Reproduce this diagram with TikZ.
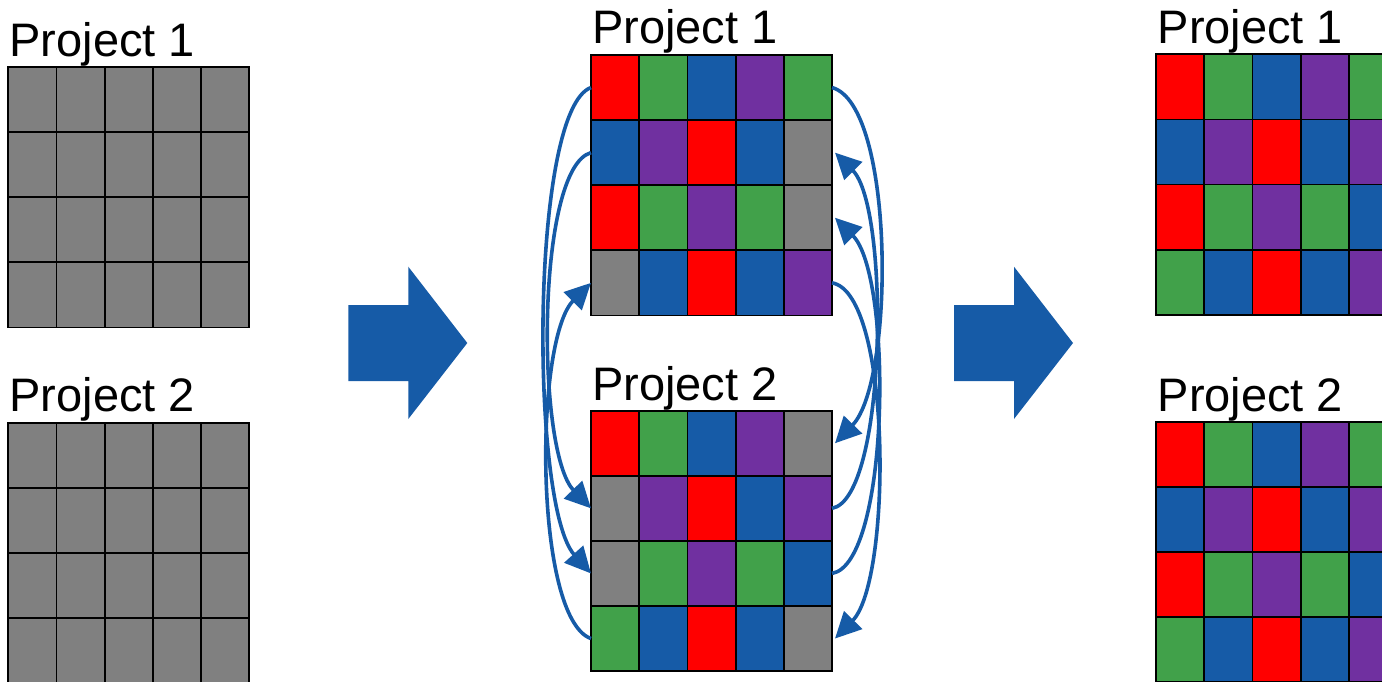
\documentclass[tikz,border=0pt]{standalone}
\usepackage{fontspec}
\setmainfont{Liberation Sans}
\usetikzlibrary{arrows.meta}

\definecolor{rd}{HTML}{FF0000}
\definecolor{gn}{HTML}{41A14A}
\definecolor{bl}{HTML}{165BA7}
\definecolor{pu}{HTML}{7030A0}
\definecolor{gy}{HTML}{808080}

% a 5x4 project grid: name, left, top, rows of colours
\newcommand{\projgrid}[4]{%
  \foreach \row [count=\rowno] in {#4} {
    \foreach \col [count=\colno] in \row {
      \node[cell, fill=\col] (#1-\rowno-\colno)
        at ({#2+(\colno-0.5)*48.2}, {#3+(\rowno-0.5)*65.1}) {};
    }
  }
}

\begin{document}
\begin{tikzpicture}[x=1pt, y=-1pt,
    cell/.style={draw=black, line width=1.8pt, minimum width=48.2pt,
      minimum height=65.1pt, inner sep=0pt, outer sep=0pt},
    projname/.style={anchor=base west, inner sep=0pt,
      font=\fontsize{47}{50}\selectfont},
    flow/.style={draw=bl, line width=3.6pt,
      -{Triangle[length=26pt, width=25pt]}},
    bigarrow/.style={fill=bl}]

    \useasboundingbox (0,0) rectangle (1382,681);
    \clip (0,0) rectangle (1382,681);

    % draw grey grids before
    \projgrid{a1}{8.3}{67}{{gy,gy,gy,gy,gy},{gy,gy,gy,gy,gy},{gy,gy,gy,gy,gy},{gy,gy,gy,gy,gy}}
    \projgrid{a2}{8.3}{422.7}{{gy,gy,gy,gy,gy},{gy,gy,gy,gy,gy},{gy,gy,gy,gy,gy},{gy,gy,gy,gy,gy}}

    % draw grids with gaps
    \projgrid{b1}{591}{55}{{rd,gn,bl,pu,gn},{bl,pu,rd,bl,gy},{rd,gn,pu,gn,gy},{gy,bl,rd,bl,pu}}
    \projgrid{b2}{591}{410.7}{{rd,gn,bl,pu,gy},{gy,pu,rd,bl,pu},{gy,gn,pu,gn,bl},{gn,bl,rd,bl,gy}}

    % draw filled grids
    \projgrid{c1}{1156}{54.3}{{rd,gn,bl,pu,gn},{bl,pu,rd,bl,pu},{rd,gn,pu,gn,bl},{gn,bl,rd,bl,pu}}
    \projgrid{c2}{1156}{421.7}{{rd,gn,bl,pu,gn},{bl,pu,rd,bl,pu},{rd,gn,pu,gn,bl},{gn,bl,rd,bl,pu}}

    % draw names
    \node[projname] (na1) at ([xshift=1pt, yshift=10.5pt]a1-1-1.north west) {Project 1};
    \node[projname] (na2) at ([xshift=1pt, yshift=11pt]a2-1-1.north west) {Project 2};
    \node[projname] (nb1) at ([xshift=1pt, yshift=11.5pt]b1-1-1.north west) {Project 1};
    \node[projname] (nb2) at ([xshift=1pt, yshift=10.5pt]b2-1-1.north west) {Project 2};
    \node[projname] (nc1) at ([xshift=1.5pt, yshift=11pt]c1-1-1.north west) {Project 1};
    \node[projname] (nc2) at ([xshift=1.5pt, yshift=10pt]c2-1-1.north west) {Project 2};

    % draw block arrows
    \foreach \ax in {348.3, 954} {
      \fill[bigarrow] (\ax,305) -- ++(60,0) -- ++(0,-38.3) -- ++(59,76.3)
        -- ++(-59,76) -- ++(0,-38) -- ++(-60,0) -- cycle;
    }

    % draw swaps on the left
    \draw[flow] (b1-1-1.west) .. controls +(-61,22) and +(-61,-68) .. (b2-3-1.west);
    \draw[flow] (b1-2-1.west) .. controls +(-55,15) and +(-55,-57) .. (b2-2-1.west);
    \draw[flow] (b2-4-1.west) .. controls +(-57,-20) and +(-57,57) .. (b1-4-1.west);

    % draw swaps on the right
    \draw[flow] (b1-1-5.east) .. controls +(63,17) and +(60,-62) .. ([xshift=3pt]b2-1-5.east);
    \draw[flow] (b1-4-5.east) .. controls +(60,10) and +(57,-58) .. ([xshift=3pt]b2-4-5.east);
    \draw[flow] (b2-2-5.east) .. controls +(55,-10) and +(55,55) .. ([xshift=3pt]b1-2-5.east);
    \draw[flow] (b2-3-5.east) .. controls +(58,-10) and +(58,58) .. ([xshift=3pt]b1-3-5.east);

\end{tikzpicture}
\end{document}
